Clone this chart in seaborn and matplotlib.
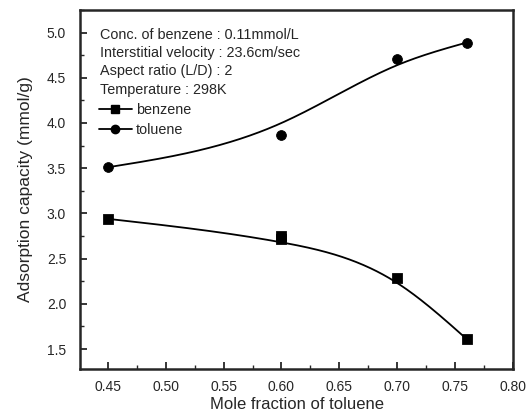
import numpy as np
import pandas as pd
import seaborn as sns
import matplotlib
matplotlib.use("Agg")
import matplotlib.pyplot as plt
from matplotlib.lines import Line2D
from matplotlib.ticker import AutoMinorLocator

# measured points
tol_x = [0.45, 0.60, 0.70, 0.76]
tol_y = [3.51, 3.87, 4.71, 4.89]
ben_x = [0.45, 0.60, 0.60, 0.70, 0.76]
ben_y = [2.94, 2.72, 2.75, 2.29, 1.61]

# smoothed curve
fit_x = [0.45, 0.60, 0.70, 0.76]
fit_tol = [3.51, 4.00, 4.64, 4.89]
fit_ben = [2.94, 2.68, 2.23, 1.61]

x_ticks = [0.45, 0.50, 0.55, 0.60, 0.65, 0.70, 0.75, 0.80]
y_ticks = [1.5, 2.0, 2.5, 3.0, 3.5, 4.0, 4.5, 5.0]

header = ["Conc. of benzene : 0.11mmol/L",
          "Interstitial velocity : 23.6cm/sec",
          "Aspect ratio (L/D) : 2",
          "Temperature : 298K"]
series = ["benzene", "toluene"]


def natural_spline(x, y, xs):
    x = np.asarray(x, float)
    y = np.asarray(y, float)
    n = len(x)
    h = np.diff(x)
    A = np.zeros((n, n))
    b = np.zeros(n)
    A[0, 0] = A[-1, -1] = 1.0
    for i in range(1, n - 1):
        A[i, i - 1] = h[i - 1]
        A[i, i] = 2 * (h[i - 1] + h[i])
        A[i, i + 1] = h[i]
        b[i] = 3 * ((y[i + 1] - y[i]) / h[i] - (y[i] - y[i - 1]) / h[i - 1])
    c = np.linalg.solve(A, b)
    out = np.empty_like(xs)
    for k, xv in enumerate(xs):
        i = min(np.searchsorted(x, xv, side="right") - 1, n - 2)
        i = max(i, 0)
        dx = xv - x[i]
        bi = (y[i + 1] - y[i]) / h[i] - h[i] * (2 * c[i] + c[i + 1]) / 3
        di = (c[i + 1] - c[i]) / (3 * h[i])
        out[k] = y[i] + bi * dx + c[i] * dx ** 2 + di * dx ** 3
    return out


sns.set_style("ticks")
plt.rcParams["font.family"] = ["Liberation Sans", "DejaVu Sans"]

fig = plt.figure(figsize=(5.3, 4.15), dpi=100)
ax = fig.add_axes([0.151, 0.111, 0.817, 0.865])

xs = np.linspace(min(fit_x), max(fit_x), 300)
curve = pd.DataFrame({"x": np.concatenate([xs, xs]),
                      "y": np.concatenate([natural_spline(fit_x, fit_ben, xs),
                                           natural_spline(fit_x, fit_tol, xs)]),
                      "s": ["benzene"] * len(xs) + ["toluene"] * len(xs)})
sns.lineplot(data=curve, x="x", y="y", units="s", estimator=None, color="black",
             lw=1.3, ax=ax, legend=False)

pts_b = pd.DataFrame({"x": ben_x, "y": ben_y})
pts_t = pd.DataFrame({"x": tol_x, "y": tol_y})
sns.scatterplot(data=pts_b, x="x", y="y", marker="s", s=50, color="black",
                edgecolor="black", ax=ax, legend=False, zorder=3)
sns.scatterplot(data=pts_t, x="x", y="y", marker="o", s=50, color="black",
                edgecolor="black", ax=ax, legend=False, zorder=3)

ax.set_xlim(0.426, 0.80)
ax.set_ylim(1.28, 5.25)
ax.set_xticks(x_ticks)
ax.set_xticklabels([f"{v:.2f}" for v in x_ticks], fontsize=10)
ax.set_yticks(y_ticks)
ax.set_yticklabels([f"{v:.1f}" for v in y_ticks], fontsize=10)
ax.xaxis.set_minor_locator(AutoMinorLocator(2))
ax.yaxis.set_minor_locator(AutoMinorLocator(2))
ax.tick_params(which="major", direction="in", length=5, width=1.3)
ax.tick_params(axis="x", which="major", pad=8)
ax.tick_params(axis="y", which="major", pad=10)
ax.tick_params(which="minor", direction="in", length=3, width=1.0)
for sp in ax.spines.values():
    sp.set_linewidth(1.8)

ax.set_xlabel("Mole fraction of toluene", fontsize=12, labelpad=2)
ax.set_ylabel("Adsorption capacity (mmol/g)", fontsize=12.5, labelpad=10)

ys = [0.930, 0.880, 0.830, 0.777]
for t, yy in zip(header, ys):
    ax.text(0.046, yy, t, transform=ax.transAxes, fontsize=10.4, va="center", ha="left")

handles = [Line2D([], [], color="black", marker="s", markersize=6, lw=1.3),
           Line2D([], [], color="black", marker="o", markersize=6, lw=1.3)]
ax.legend(handles, series, loc="upper left", bbox_to_anchor=(0.043, 0.742),
          frameon=False, fontsize=10.4, handlelength=2.3, handletextpad=0.3,
          labelspacing=0.45, borderpad=0, borderaxespad=0)

fig.savefig("out.png", dpi=100)
